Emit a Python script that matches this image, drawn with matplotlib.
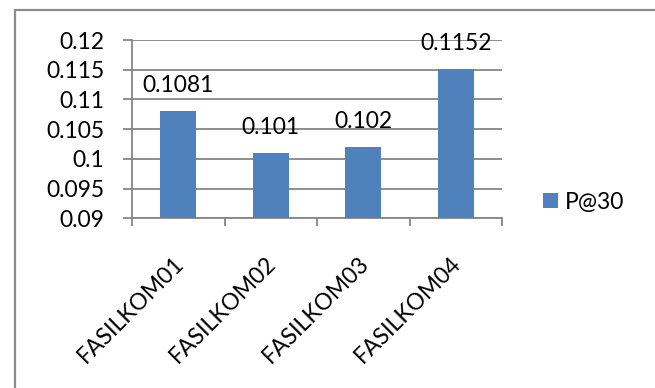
import matplotlib
matplotlib.use("Agg")
import matplotlib.pyplot as plt
import matplotlib.transforms as mtransforms
from matplotlib.patches import Rectangle

categories = ["FASILKOM01", "FASILKOM02", "FASILKOM03", "FASILKOM04"]
p_at_30 = [0.1081, 0.101, 0.102, 0.1152]
value_labels = ["0.1081", "0.101", "0.102", "0.1152"]
y_ticks = [0.09, 0.095, 0.1, 0.105, 0.11, 0.115, 0.12]
y_tick_labels = ["0.09", "0.095", "0.1", "0.105", "0.11", "0.115", "0.12"]
series_name = "P@30"

plt.rcParams["font.family"] = ["Lato", "DejaVu Sans"]
FS = 16.5
BAR = "#4F81BD"
GRID = "#868686"

W, H = 655, 388
fig = plt.figure(figsize=(W / 100, H / 100), dpi=100)

# chart frame (runs off the right and bottom edges)
fig.add_artist(Rectangle((15 / W, -0.2), 2.0, (H - 10) / H + 0.2,
                         transform=fig.transFigure, fill=False,
                         edgecolor="#8c8c8c", linewidth=1.6))

ax = fig.add_axes([132 / W, (H - 218.3) / H, (502 - 132) / W, (218.3 - 40) / H])
x = list(range(len(categories)))
ax.bar(x, p_at_30, width=0.39, color=BAR, zorder=3, label=series_name)

ax.set_ylim(y_ticks[0], y_ticks[-1])
ax.set_xlim(-0.5, len(categories) - 0.5)
ax.set_yticks(y_ticks)
ax.set_yticklabels(y_tick_labels, fontsize=FS)
ax.yaxis.grid(True, color=GRID, linewidth=1.3, zorder=0)
ax.set_axisbelow(True)

ax.set_xticks([i - 0.5 for i in range(len(categories) + 1)])
ax.set_xticklabels([])
ax.tick_params(axis="x", direction="out", length=6, width=1.3, color=GRID)
ax.tick_params(axis="y", direction="out", length=6.5, width=1.3, color=GRID, pad=13.5)

for s in ("top", "right"):
    ax.spines[s].set_visible(False)
for s in ("left", "bottom"):
    ax.spines[s].set_color(GRID)
    ax.spines[s].set_linewidth(1.3)

# value labels above bars
for xi, v, lab in zip(x, p_at_30, value_labels):
    ax.annotate(lab, (xi, v), xytext=(0, 13.5), textcoords="offset points",
                ha="center", va="baseline", fontsize=FS, zorder=4)

# rotated category labels
base = mtransforms.blended_transform_factory(ax.transData, ax.transAxes)
for xi, name in zip(x, categories):
    tr = base + mtransforms.ScaledTranslation(2 / 100, -42 / 100, fig.dpi_scale_trans)
    ax.text(xi, 0, name, transform=tr, rotation=45, rotation_mode="anchor",
            ha="right", va="center", fontsize=FS)

leg = fig.legend(loc="center left", bbox_to_anchor=(543 / W, (H - 202) / H),
                 frameon=False, fontsize=FS, handlelength=0.65, handleheight=0.65,
                 handletextpad=0.3, borderpad=0, borderaxespad=0)

fig.savefig("out.png", dpi=100)
